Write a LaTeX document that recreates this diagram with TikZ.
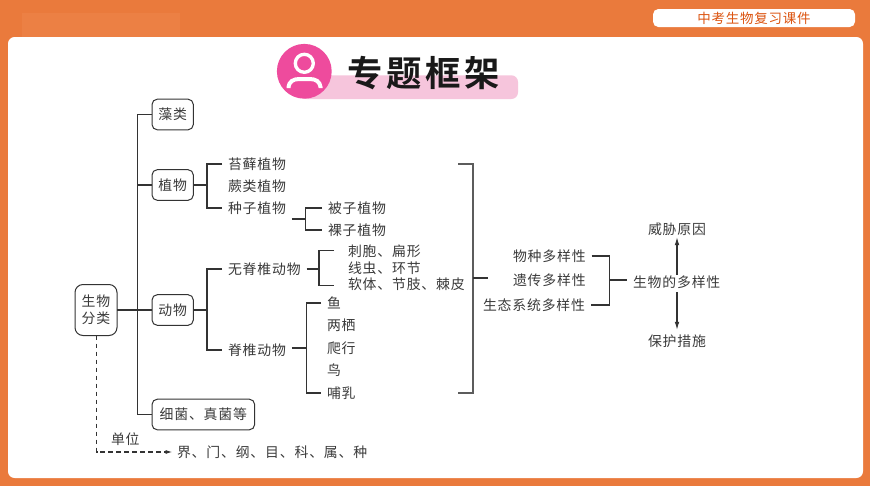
\documentclass[tikz,border=0pt]{standalone}
\usepackage{fontspec}
\usetikzlibrary{arrows.meta}
\newfontfamily\cjk[LetterSpace=6]{Noto Sans CJK SC}
\newfontfamily\cjktitle[LetterSpace=10.5,BoldFont={Noto Sans CJK SC Bold}]{Noto Sans CJK SC}
\definecolor{hdr}{HTML}{EA7A3C}
\definecolor{hdrlight}{HTML}{EC8044}
\definecolor{ink}{HTML}{3A3A3A}
\definecolor{rule}{HTML}{333333}
\definecolor{pinkdark}{HTML}{EE4B9D}
\definecolor{pinklight}{HTML}{F6C5DC}
\definecolor{toptext}{HTML}{DC5410}
\tikzset{
  lbl/.style={anchor=west,inner xsep=4.5pt,inner ysep=0pt,outer sep=0pt,text=ink,font=\cjk\fontsize{10.4}{11}\selectfont},
  wide/.style={lbl,inner xsep=10.5pt},
  box/.style={draw=rule,line width=0.75pt,rounded corners=4pt,fill=white,anchor=west,inner xsep=0pt,inner ysep=0pt,outer sep=0pt,align=center,text=ink,font=\cjk\fontsize{10.4}{12.75}\selectfont},
  conn/.style={draw=rule,line width=0.8pt},
  big/.style={draw=rule!80,line width=1pt},
  dashconn/.style={draw=rule,line width=0.8pt,dash pattern=on 3.5pt off 2.5pt},
  arr/.style={draw=rule,line width=0.8pt,-{Latex[length=6pt,width=3.5pt]}},
}
\begin{document}
\begin{tikzpicture}[x=0.75pt,y=-0.75pt]
\useasboundingbox (0,0) rectangle (870,486);
\fill[hdr] (0,0) rectangle (870,486);
\fill[hdrlight] (22,13) rectangle (180,37);
\fill[white,rounded corners=5pt] (8,37) rectangle (863,478);
% top right pill
\fill[white,rounded corners=4pt] (653,9) rectangle (855,27);
\node[anchor=west,inner sep=0pt,text=toptext,font=\cjk\fontsize{10.1}{11}\selectfont] (top) at (697,18) {中考生物复习课件};
% title
\fill[pinklight,rounded corners=5pt] (300,75.3) rectangle (518,99);
\fill[pinkdark] (304.3,71.3) circle (27.4);
\draw[white,line width=2.5pt] (304.3,63.3) circle (9);
\draw[white,line width=3pt] (288.5,88) -- (288.5,87) .. controls (289,82) and (293,79) .. (299,79) -- (310,79) .. controls (316,79) and (320,82) .. (320.5,87) -- (320.5,88);
\node[anchor=west,inner sep=0pt,text=black!90,font=\cjktitle\bfseries\fontsize{26.5}{28}\selectfont] (title) at (347,73) {专题框架};
% boxes
\node[box,rounded corners=6pt,minimum width=31.5pt,minimum height=38.25pt] (root) at (75,310) {生物\\分类};
\node[box,minimum width=31pt,minimum height=23pt] (zao) at (152,114.5) {藻类};
\node[box,minimum width=31pt,minimum height=23pt] (zhi) at (152,185) {植物};
\node[box,minimum width=31pt,minimum height=23pt] (dong) at (152,310) {动物};
\node[box,minimum width=77pt,minimum height=23pt] (xi) at (152,414.5) {细菌、真菌等};
% labels
\node[lbl] (tai) at (222,164) {苔藓植物};
\node[lbl] (jue) at (222,186) {蕨类植物};
\node[lbl] (zhong) at (222,208) {种子植物};
\node[lbl] (bei) at (322,208) {被子植物};
\node[lbl] (luo) at (322,230) {裸子植物};
\node[lbl] (wu) at (222,269) {无脊椎动物};
\node[lbl] (ji) at (222,350) {脊椎动物};
\node[wide] (ci) at (334,251.5) {刺胞、扁形};
\node[wide] (xian) at (334,268) {线虫、环节};
\node[wide] (ruan) at (334,284.5) {软体、节肢、棘皮};
\node[lbl] (yu) at (321,303) {鱼};
\node[lbl] (liang) at (321,325) {两栖};
\node[lbl] (pa) at (321,348) {爬行};
\node[lbl] (niao) at (321,370) {鸟};
\node[lbl] (bu) at (321,393) {哺乳};
\node[lbl] (wz) at (507,256) {物种多样性};
\node[lbl] (yc) at (507,280) {遗传多样性};
\node[lbl] (st) at (477,305) {生态系统多样性};
\node[lbl] (dy) at (627,282) {生物的多样性};
\node[lbl] (wx) at (642,229) {威胁原因};
\node[lbl] (bh) at (642,341) {保护措施};
\node[lbl] (dw) at (105,439) {单位};
\node[lbl] (jie) at (171,452) {界、门、纲、目、科、属、种};
% trunk
\coordinate (t) at (137.5,310);
\draw[conn] (root.east) -- (t);
\draw[conn] (zao.west) -| (t) |- (xi.west);
\draw[conn] (zhi.west) -- (zhi.west -| t);
\draw[conn] (dong.west) -- (t);
% plant bracket
\coordinate (bz) at (207,185);
\draw[conn] (zhi.east) -- (bz);
\draw[conn] (tai.west) -| (bz) |- (zhong.west);
% seed bracket
\coordinate (bs) at (305.5,219);
\draw[conn] (zhong.east |- bs) -- (bs);
\draw[conn] (bei.west) -| (bs) |- (luo.west);
% animal bracket
\coordinate (bd) at (207,310);
\draw[conn] (dong.east) -- (bd);
\draw[conn] (wu.west) -| (bd) |- (ji.west);
% invertebrate
\coordinate (bw) at (319,269);
\draw[conn] (wu.east) -- (bw);
\draw[conn] ([yshift=1pt]ci.west) -| (bw) |- ([yshift=-1pt]ruan.west);
% vertebrate
\coordinate (bj) at (306.5,348);
\draw[conn] (ji.east |- bj) -- (bj);
\draw[conn] (yu.west) -| (bj) |- (bu.west);
% big bracket
\coordinate (g1) at (458,164);
\coordinate (g2) at (458,393);
\coordinate (g3) at (473,278);
\coordinate (g4) at (488,278);
\draw[big] (g1) -| (g3) |- (g2);
\draw[conn] (g3) -- (g4);
% diversity bracket
\coordinate (d0) at (609.5,280);
\draw[conn] (wz.east) -| (d0) |- (st.east);
\draw[conn] (d0) -- (dy.west |- d0);
% arrows
\coordinate (ax) at (677,282);
\draw[arr] ([yshift=0.6pt]ax |- dy.north) -- ([yshift=-1.3pt]ax |- wx.south);
\draw[arr] ([yshift=-2.8pt]ax |- dy.south) -- ([yshift=3.6pt]ax |- bh.north);
% dashed
\coordinate (dc) at (96.5,452);
\draw[dashconn,-{Latex[length=5pt,width=3pt]}] (root.south -| dc) -- (dc) -- ([xshift=1pt]jie.west);
\end{tikzpicture}
\end{document}
